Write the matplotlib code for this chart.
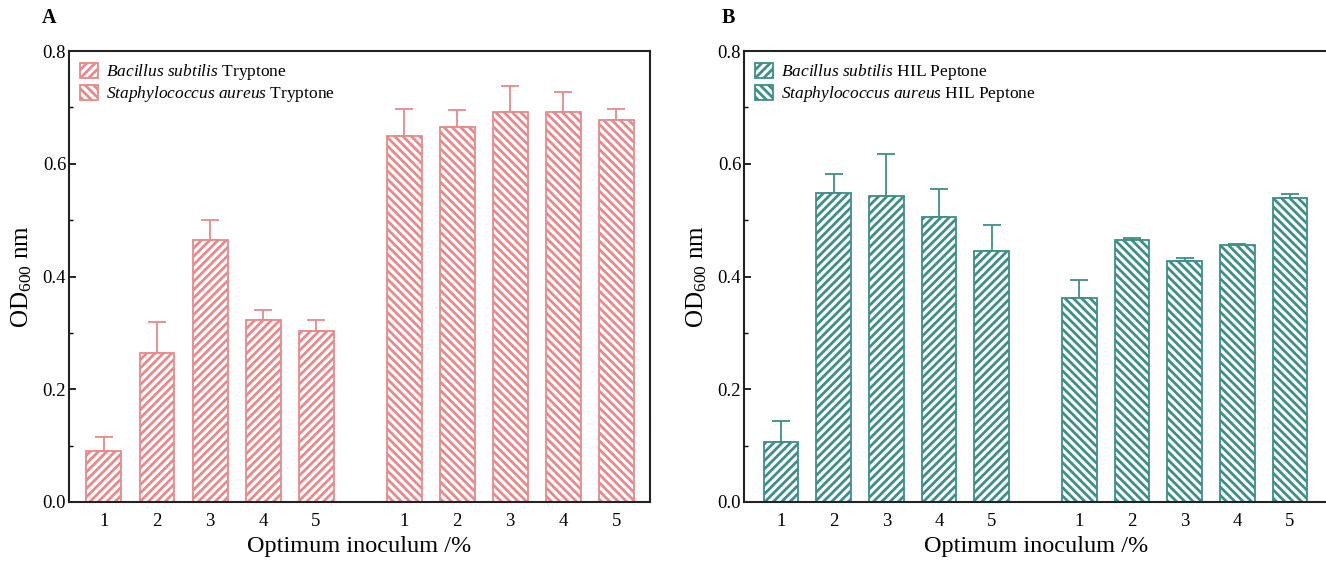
import matplotlib
matplotlib.use("Agg")
import matplotlib.pyplot as plt
import numpy as np
from matplotlib.ticker import MultipleLocator

plt.rcParams['font.family'] = ['Liberation Serif', 'DejaVu Serif']
plt.rcParams['mathtext.fontset'] = 'custom'
plt.rcParams['mathtext.rm'] = 'Liberation Serif'
plt.rcParams['mathtext.it'] = 'Liberation Serif:italic'
plt.rcParams['hatch.linewidth'] = 2.0

inoculum = ["1", "2", "3", "4", "5"]

# Panel A: Tryptone
bs_tryp = [0.090, 0.264, 0.465, 0.322, 0.303]
bs_tryp_err = [0.025, 0.055, 0.036, 0.018, 0.019]
sa_tryp = [0.649, 0.666, 0.691, 0.691, 0.678]
sa_tryp_err = [0.049, 0.029, 0.047, 0.036, 0.020]

# Panel B: HIL Peptone
bs_hil = [0.106, 0.548, 0.543, 0.505, 0.446]
bs_hil_err = [0.038, 0.033, 0.074, 0.050, 0.045]
sa_hil = [0.362, 0.464, 0.427, 0.456, 0.539]
sa_hil_err = [0.032, 0.005, 0.005, 0.002, 0.007]

pink = '#e8898b'
teal = '#3d8f88'

fig = plt.figure(figsize=(13.26, 5.62), dpi=100)
axA = fig.add_axes([69/1326, 60/562, (650-69)/1326, (502-51)/562])
axB = fig.add_axes([744/1326, 60/562, (1329-744)/1326, (502-51)/562])

def panel(ax, v1, e1, v2, e2, color, lab1, lab2, xlim, letter, letter_x):
    n = len(v1)
    x1 = np.arange(n)
    x2 = np.arange(n) + n + 0.66
    w = 0.66
    ax.bar(x1, v1, width=w, facecolor='white', edgecolor=color, hatch='////',
           linewidth=1.3, label=lab1, zorder=2)
    ax.bar(x2, v2, width=w, facecolor='white', edgecolor=color, hatch='\\\\\\\\',
           linewidth=1.3, label=lab2, zorder=2)
    for xs, vs, es in ((x1, v1, e1), (x2, v2, e2)):
        ax.errorbar(xs, vs, yerr=[np.zeros(n), es], fmt='none', ecolor=color,
                    elinewidth=1.3, capsize=6.5, capthick=1.3, zorder=1)
    ax.set_xlim(*xlim)
    ax.set_ylim(0, 0.8)
    ax.set_xticks(np.concatenate([x1, x2]))
    ax.set_xticklabels(inoculum + inoculum)
    ax.yaxis.set_minor_locator(MultipleLocator(0.1))
    ax.set_yticks([0.0, 0.2, 0.4, 0.6, 0.8])
    ax.set_yticklabels(['0.0', '0.2', '0.4', '0.6', '0.8'], fontsize=13.5)
    ax.tick_params(axis='x', direction='in', length=4, width=1.2, labelsize=13.5, pad=8)
    ax.tick_params(axis='y', which='major', direction='in', length=5, width=1.2, pad=2)
    ax.tick_params(axis='y', which='minor', direction='in', length=3, width=1.0)
    for s in ax.spines.values():
        s.set_linewidth(1.5)
        s.set_color('#222222')
    ax.set_xlabel('Optimum inoculum /%', fontsize=17.5, labelpad=4)
    ax.set_ylabel(r'OD$_{600}$ nm', fontsize=18, labelpad=6)
    ax.legend(loc='upper left', frameon=False, fontsize=12.5, handlelength=1.0,
              handleheight=0.9, handletextpad=0.5, labelspacing=0.12,
              borderaxespad=0.25, bbox_to_anchor=(0.0, 1.0))
    fig.text(letter_x, 1 - 18/562, letter, fontsize=14.5, fontweight='bold',
             ha='left', va='center')

panel(axA, bs_tryp, bs_tryp_err, sa_tryp, sa_tryp_err, pink,
      r'$\it{Bacillus\ subtilis}$ Tryptone',
      r'$\it{Staphylococcus\ aureus}$ Tryptone',
      (-0.66, 10.30), 'A', 42/1326)
panel(axB, bs_hil, bs_hil_err, sa_hil, sa_hil_err, teal,
      r'$\it{Bacillus\ subtilis}$ HIL Peptone',
      r'$\it{Staphylococcus\ aureus}$ HIL Peptone',
      (-0.70, 10.40), 'B', 722/1326)

fig.savefig('out.png', dpi=100)
